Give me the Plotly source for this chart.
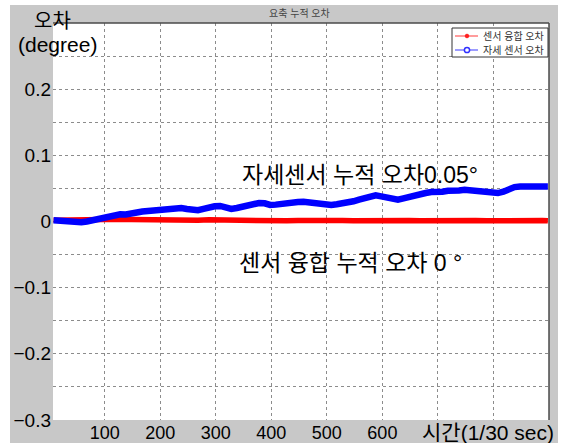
import plotly.graph_objects as go

# accumulated yaw error, sampled every 10 frames (1/30 s per frame)
samples = list(range(8, 899, 10))
attitude_sensor_err = [
    0.002, 0.0015, 0.0005, 0.000, -0.0015, -0.001, 0.000, 0.002, 0.005, 0.0065,
    0.007, 0.0095, 0.011, 0.0105, 0.013, 0.0135, 0.015, 0.016, 0.0155, 0.017,
    0.018, 0.0185, 0.020, 0.0205, 0.019, 0.0175, 0.017, 0.019, 0.0215, 0.023,
    0.0235, 0.021, 0.019, 0.0205, 0.023, 0.0245, 0.026, 0.028, 0.0275, 0.025,
    0.0255, 0.027, 0.0275, 0.029, 0.0295, 0.030, 0.029, 0.027, 0.0255, 0.0245,
    0.025, 0.026, 0.027, 0.028, 0.0305, 0.033, 0.035, 0.0375, 0.0395, 0.038,
    0.0365, 0.034, 0.033, 0.035, 0.0375, 0.040, 0.042, 0.043, 0.0445, 0.044,
    0.045, 0.0465, 0.046, 0.047, 0.048, 0.0475, 0.047, 0.046, 0.045, 0.044,
    0.043, 0.045, 0.049, 0.052, 0.053, 0.0525, 0.053, 0.0535, 0.053, 0.053,
]

fusion_samples = list(range(8, 899, 20)) + [898]
fusion_err = [
    0.002, 0.0025, 0.002, 0.003, 0.0035, 0.003, 0.0035, 0.003, 0.0025, 0.003,
    0.0025, 0.002, 0.0025, 0.002, 0.0025, 0.002, 0.0015, 0.002, 0.0015, 0.002,
    0.0015, 0.001, 0.0015, 0.002, 0.0015, 0.001, 0.0015, 0.001, 0.0015, 0.002,
    0.0015, 0.001, 0.0015, 0.001, 0.0015, 0.001, 0.0015, 0.002, 0.0015, 0.001,
    0.0015, 0.001, 0.0015, 0.001, 0.0015, 0.001,
]

series_names = ["센서 융합 오차", "자세 센서 오차"]

x_ticks = [100, 200, 300, 400, 500, 600, 700, 800]
x_tick_text = ["100", "200", "300", "400", "500", "600", "", ""]
y_ticks = [-0.3, -0.25, -0.2, -0.15, -0.1, -0.05, 0, 0.05, 0.1, 0.15, 0.2, 0.25, 0.3]
y_tick_text = ["\u22120.3", "", "\u22120.2", "", "\u22120.1", "", "0", "", "0.1", "", "0.2", "", ""]

W, H = 564, 443
L, R, T, B = 53, 15, 23, 23
PW, PH = W - L - R, H - T - B

def px(x):
    return (x - L) / PW

def py(y):
    return (H - B - y) / PH

FONT = "Liberation Sans, Arial, Noto Sans CJK KR, sans-serif"
GRAY = "#c8c8c8"

fig = go.Figure()

fig.add_trace(go.Scatter(
    x=fusion_samples, y=fusion_err, mode="lines", name=series_names[0],
    line=dict(color="#ff0000", width=5.5), showlegend=False, hoverinfo="skip"))
fig.add_trace(go.Scatter(
    x=samples, y=attitude_sensor_err, mode="lines", name=series_names[1],
    line=dict(color="#0000ff", width=6.5), showlegend=False, hoverinfo="skip"))

grid = dict(showgrid=True, gridcolor="#8c8c8c", gridwidth=1, griddash="dot",
            zeroline=False, showline=False, ticks="", automargin=False)

fig.update_xaxes(range=[7, 900], tickmode="array", tickvals=x_ticks,
                 ticktext=x_tick_text, ticklabelstandoff=0,
                 tickfont=dict(family=FONT, size=18, color="#000"), **grid)
fig.update_yaxes(range=[-0.3, 0.3], tickmode="array", tickvals=y_ticks,
                 ticktext=y_tick_text, ticklabelstandoff=1,
                 tickfont=dict(family=FONT, size=19, color="#000"), **grid)

def rect(x0, x1, y0, y1, fill, line=None, layer="below"):
    return dict(type="rect", xref="paper", yref="paper",
                x0=px(x0), x1=px(x1), y0=py(y1), y1=py(y0),
                fillcolor=fill, line=line or dict(width=0), layer=layer)

def hline(x0, x1, y, color, width):
    return dict(type="line", xref="paper", yref="paper",
                x0=px(x0), x1=px(x1), y0=py(y), y1=py(y),
                line=dict(color=color, width=width), layer="above")

def dot(cx, cy, r, fill, edge, width):
    return dict(type="circle", xref="paper", yref="paper",
                x0=px(cx - r), x1=px(cx + r), y0=py(cy + r), y1=py(cy - r),
                fillcolor=fill, line=dict(color=edge, width=width), layer="above")

shapes = [
    # white strips around the gray figure panel
    rect(0, 10, 0, H, "white"),
    rect(0, W, 0, 5, "white"),
    rect(558, W, 0, H, "white"),
    # axes box edges
    dict(type="line", xref="paper", yref="paper", x0=0, x1=1, y0=1, y1=1,
         line=dict(color="#4a4a4a", width=1.5)),
    dict(type="line", xref="paper", yref="paper", x0=1, x1=1, y0=0, y1=1,
         line=dict(color="#4a4a4a", width=1.5)),
    # legend box and samples
    rect(452, 548, 28, 57, "white", dict(color="#333", width=1), layer="above"),
    hline(455, 478, 36, "#ff5a5a", 1.2),
    dot(467, 36, 1.8, "#ff2020", "#ff2020", 1),
    hline(455, 478, 50, "#5a5aff", 1.2),
    dot(467, 50, 2.6, "white", "#3030ff", 1.5),
]

annotations = [
    dict(text="요축 누적 오차", x=px(299), y=py(14), font=dict(family=FONT, size=10, color="#444")),
    dict(text="오차", x=px(52), y=py(21), font=dict(family=FONT, size=20, color="#000")),
    dict(text="(degree)", x=px(57), y=py(45), font=dict(family=FONT, size=21, color="#000")),
    dict(text="시간(1/30 sec)", x=px(488), y=py(432), font=dict(family=FONT, size=21, color="#000")),
    dict(text="자세센서 누적 오차0.05°", x=px(360), y=py(175), font=dict(family=FONT, size=23, color="#000")),
    dict(text="센서 융합 누적 오차 0 °", x=px(350), y=py(263), font=dict(family=FONT, size=23, color="#000")),
    dict(text=series_names[0], x=px(481), y=py(36), xanchor="left",
         font=dict(family=FONT, size=10, color="#333")),
    dict(text=series_names[1], x=px(481), y=py(50), xanchor="left",
         font=dict(family=FONT, size=10, color="#333")),
]
for a in annotations:
    a.setdefault("xanchor", "center")
    a.update(xref="paper", yref="paper", showarrow=False, yanchor="middle")

fig.update_layout(
    width=W, height=H,
    margin=dict(l=L, r=R, t=T, b=B, autoexpand=False),
    paper_bgcolor=GRAY, plot_bgcolor="white",
    shapes=shapes, annotations=annotations,
    showlegend=False,
    font=dict(family=FONT),
)

fig.write_html("out.html")
